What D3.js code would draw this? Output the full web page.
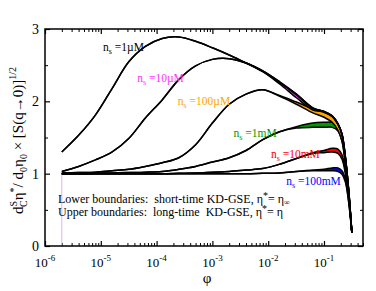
<!DOCTYPE html>
<html>
<head>
<meta charset="utf-8">
<script src="https://cdn.jsdelivr.net/npm/d3@7"></script>
<style>
  body { margin: 0; background: #fff; }
  text { font-family: "Liberation Serif", "DejaVu Serif", serif; }
</style>
</head>
<body>
<div id="chart"></div>
<script>
// volume fraction grid shared by all curves
var phi = [2e-6, 4e-6, 8e-6, 1.6e-5, 3.2e-5, 6.3e-5, 1.26e-4, 2.5e-4, 5e-4, 1e-3, 2e-3, 4e-3, 8e-3,
  1.6e-2, 3.2e-2, 6.3e-2, 0.1, 0.14, 0.178, 0.21, 0.24, 0.275, 0.316];

// upper (long-time) and lower (short-time) boundaries for each salt concentration
var up1uM = [1.30, 1.53, 1.81, 2.18, 2.55, 2.76, 2.87, 2.89, 2.83, 2.74, 2.64, 2.53, 2.42, 2.27, 2.10, 1.91, 1.86, 1.80, 1.69, 1.55, 1.25, 0.80, 0.18];
var lo1uM = [1.30, 1.53, 1.81, 2.18, 2.55, 2.76, 2.87, 2.89, 2.83, 2.74, 2.64, 2.53, 2.41, 2.26, 2.09, 1.90, 1.85, 1.79, 1.68, 1.54, 1.24, 0.79, 0.18];
var up10uM = [1.03, 1.10, 1.19, 1.30, 1.49, 1.77, 2.02, 2.30, 2.49, 2.58, 2.59, 2.53, 2.42, 2.27, 2.10, 1.91, 1.86, 1.80, 1.69, 1.55, 1.25, 0.80, 0.18];
var lo10uM = [1.03, 1.10, 1.19, 1.30, 1.49, 1.77, 2.02, 2.30, 2.49, 2.58, 2.59, 2.53, 2.41, 2.24, 2.05, 1.88, 1.85, 1.79, 1.68, 1.54, 1.24, 0.79, 0.18];
var up100uM = [1.01, 1.015, 1.02, 1.04, 1.06, 1.10, 1.15, 1.22, 1.40, 1.70, 1.96, 2.10, 2.16, 2.08, 1.99, 1.90, 1.86, 1.80, 1.69, 1.55, 1.25, 0.80, 0.18];
var lo100uM = [1.01, 1.015, 1.02, 1.04, 1.06, 1.10, 1.15, 1.22, 1.40, 1.70, 1.96, 2.10, 2.16, 2.07, 1.96, 1.84, 1.78, 1.71, 1.60, 1.45, 1.17, 0.76, 0.18];
var up1mM = [1.0, 1.0, 1.005, 1.01, 1.015, 1.02, 1.03, 1.06, 1.10, 1.16, 1.22, 1.32, 1.47, 1.58, 1.65, 1.70, 1.71, 1.71, 1.67, 1.52, 1.18, 0.76, 0.18];
var lo1mM = [1.0, 1.0, 1.005, 1.01, 1.015, 1.02, 1.03, 1.06, 1.10, 1.16, 1.22, 1.32, 1.47, 1.58, 1.63, 1.64, 1.64, 1.64, 1.59, 1.45, 1.14, 0.75, 0.18];
var up10mM = [1, 1, 1, 1, 1, 1, 1, 1.005, 1.01, 1.02, 1.03, 1.05, 1.07, 1.13, 1.21, 1.29, 1.32, 1.35, 1.34, 1.26, 1.05, 0.70, 0.18];
var lo10mM = [1, 1, 1, 1, 1, 1, 1, 1.005, 1.01, 1.02, 1.03, 1.05, 1.07, 1.13, 1.21, 1.28, 1.29, 1.30, 1.28, 1.20, 1.01, 0.69, 0.18];
var up100mM = [1, 1, 1, 1, 1, 1, 1, 1, 1, 1, 1, 1, 1.005, 1.01, 1.03, 1.05, 1.06, 1.08, 1.08, 1.04, 0.93, 0.64, 0.18];
var lo100mM = [1, 1, 1, 1, 1, 1, 1, 1, 1, 1, 1, 1, 1.005, 1.01, 1.03, 1.04, 1.04, 1.04, 1.03, 0.99, 0.89, 0.62, 0.18];

var seriesNames = ["1\u00b5M", "10\u00b5M", "100\u00b5M", "1mM", "10mM", "100mM"];
var seriesColors = ["#000000", "#ff33ff", "#ffa500", "#009900", "#ff0000", "#0000ff"];
var uppers = [up1uM, up10uM, up100uM, up1mM, up10mM, up100mM];
var lowers = [lo1uM, lo10uM, lo100uM, lo1mM, lo10mM, lo100mM];
// where each label starts, in data units [phi, value]
var labelPos = [[1.1e-5, 2.70], [4.5e-5, 2.27], [2.4e-4, 1.95], [2.4e-3, 1.51], [1.12e-2, 1.22], [2.1e-2, 0.84]];

var xTicks = [1e-6, 1e-5, 1e-4, 1e-3, 1e-2, 1e-1];
var xTickExp = ["-6", "-5", "-4", "-3", "-2", "-1"];
var yTicks = [0, 1, 2, 3];

var margin = { top: 29, right: 13, bottom: 45, left: 45 },
  width = 376 - margin.left - margin.right,
  height = 291 - margin.top - margin.bottom;

var x = d3.scaleLog().domain([1e-6, 0.5]).range([0, width]);
var y = d3.scaleLinear().domain([0, 3]).range([height, 0]);

var svg = d3.select("#chart").append("svg")
  .attr("width", 376).attr("height", 291)
  .append("g")
  .attr("transform", "translate(" + margin.left + "," + margin.top + ")");

// minor ticks
var xMinor = [];
for (var e = -6; e <= -1; e++) {
  for (var k = 2; k <= 9; k++) {
    var v = k * Math.pow(10, e);
    if (v <= 0.5) xMinor.push(v);
  }
}
var yMinor = [0.5, 1.5, 2.5];

function tickAxis(axisFn, scale, vals, size) {
  return axisFn(scale).tickValues(vals).tickSize(size).tickFormat("");
}

var axes = [
  [d3.axisBottom, x, "translate(0," + height + ")"],
  [d3.axisTop, x, "translate(0,0)"],
  [d3.axisLeft, y, "translate(0,0)"],
  [d3.axisRight, y, "translate(" + width + ",0)"]
];
axes.forEach(function (a) {
  var major = a[1] === x ? xTicks : yTicks;
  var minor = a[1] === x ? xMinor : yMinor;
  svg.append("g").attr("transform", a[2]).call(tickAxis(a[0], a[1], major, -5))
    .call(function (g) { g.select(".domain").remove(); g.selectAll("line").attr("stroke-width", 1.2); });
  svg.append("g").attr("transform", a[2]).call(tickAxis(a[0], a[1], minor, -3))
    .call(function (g) { g.select(".domain").remove(); });
});

// faint marker at the first phi value
svg.append("line")
  .attr("x1", x(phi[0])).attr("x2", x(phi[0]))
  .attr("y1", y(0)).attr("y2", y(1))
  .attr("stroke", "#d4b8ec").attr("stroke-width", 1);

var curve = d3.curveCatmullRom.alpha(0.5);
var area = d3.area()
  .x(function (d) { return x(d.p); })
  .y0(function (d) { return y(d.lo); })
  .y1(function (d) { return y(d.up); })
  .curve(curve);
var lineUp = d3.line().x(function (d) { return x(d.p); }).y(function (d) { return y(d.up); }).curve(curve);
var lineLo = d3.line().x(function (d) { return x(d.p); }).y(function (d) { return y(d.lo); }).curve(curve);

// draw from lowest curve up so the upper bands sit on top
for (var s = seriesNames.length - 1; s >= 0; s--) {
  var pts = phi.map(function (p, i) { return { p: p, up: uppers[s][i], lo: lowers[s][i] }; });
  svg.append("path").datum(pts).attr("d", area).attr("fill", seriesColors[s]);
  svg.append("path").datum(pts).attr("d", lineUp).attr("fill", "none").attr("stroke", "#000").attr("stroke-width", 1.5);
  svg.append("path").datum(pts).attr("d", lineLo).attr("fill", "none").attr("stroke", "#000").attr("stroke-width", 1.5);
}

// frame
svg.append("rect").attr("width", width).attr("height", height)
  .attr("fill", "none").attr("stroke", "#000").attr("stroke-width", 1.5);

// series labels
seriesNames.forEach(function (name, i) {
  var t = svg.append("text")
    .attr("x", x(labelPos[i][0])).attr("y", y(labelPos[i][1]))
    .attr("fill", seriesColors[i]).attr("font-size", 11.5);
  t.append("tspan").text("n");
  t.append("tspan").attr("dy", 3).attr("font-size", 8).text("s");
  t.append("tspan").attr("dy", -3).text(" =" + name);
});

// boundary notes
var notes = [
  ["Lower boundaries:  short-time KD-GSE, \u03b7", "\u03b7", "\u221e"],
  ["Upper boundaries:  long-time  KD-GSE, \u03b7", "\u03b7", ""]
];
notes.forEach(function (n, i) {
  var t = svg.append("text").attr("x", 13).attr("y", 174 + 13 * i)
    .attr("font-size", 12).style("white-space", "pre");
  t.append("tspan").text(n[0]);
  t.append("tspan").attr("dy", -4).attr("font-size", 10).text("*");
  t.append("tspan").attr("dy", 4).text("= " + n[1]);
  if (n[2]) t.append("tspan").attr("dy", 2).attr("font-size", 8).text(n[2]);
});

// tick labels
xTicks.forEach(function (t, i) {
  var lab = svg.append("text").attr("x", x(t)).attr("y", height + 21)
    .attr("text-anchor", "middle").attr("font-size", 13);
  lab.append("tspan").text("10");
  lab.append("tspan").attr("dy", -6).attr("font-size", 9).text(xTickExp[i]);
});
yTicks.forEach(function (t) {
  svg.append("text").attr("x", -6).attr("y", y(t) + 5)
    .attr("text-anchor", "end").attr("font-size", 14).text(t);
});

// axis titles
svg.append("text").attr("x", width / 2 + 3).attr("y", height + 37)
  .attr("text-anchor", "middle").attr("font-size", 15).text("\u03c6");

var yl = svg.append("text")
  .attr("transform", "translate(-22," + (height / 2 + 3) + ") rotate(-90)")
  .attr("text-anchor", "middle").attr("font-size", 15);
yl.append("tspan").text("d");
yl.append("tspan").attr("font-size", 10).attr("dy", -6).text("S");
yl.append("tspan").attr("font-size", 10).attr("dx", -6).attr("dy", 10).text("C");
yl.append("tspan").attr("dy", -4).text("\u03b7");
yl.append("tspan").attr("font-size", 10).attr("dy", -6).text("*");
yl.append("tspan").attr("dy", 6).text("/ d");
yl.append("tspan").attr("font-size", 10).attr("dy", 4).text("0");
yl.append("tspan").attr("dy", -4).text("\u03b7");
yl.append("tspan").attr("font-size", 10).attr("dy", 4).text("0");
yl.append("tspan").attr("dy", -4).text(" \u00d7 [S(q\u21920)]");
yl.append("tspan").attr("font-size", 10).attr("dy", -7).text("1/2");
</script>
</body>
</html>
